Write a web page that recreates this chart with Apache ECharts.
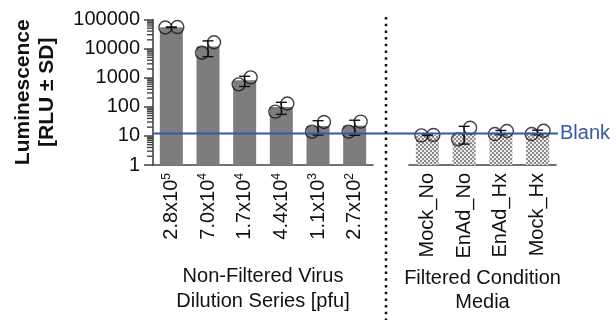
<!DOCTYPE html>
<html>
<head>
<meta charset="utf-8">
<script src="https://cdn.jsdelivr.net/npm/echarts@6/dist/echarts.min.js"></script>
<style>
  html, body { margin: 0; padding: 0; background: #fff; }
  #chart { width: 616px; height: 320px; }
</style>
</head>
<body>
<div id="chart"></div>
<script>
// Virus dilution series (pfu) and filtered conditioned media, luminescence replicates (RLU)
const dilutionLabels = ['2.8x10^5', '7.0x10^4', '1.7x10^4', '4.4x10^4', '1.1x10^3', '2.7x10^2'];
const dilutionRepA = [53000, 7200, 590, 68, 14, 14];
const dilutionRepB = [55000, 16500, 1030, 130, 30, 31];

const conditionLabels = ['Mock_No', 'EnAd_No', 'EnAd_Hx', 'Mock_Hx'];
const conditionRepA = [10.4, 7.6, 11.6, 11.6];
const conditionRepB = [10.8, 19, 14.7, 15];

const blankLevel = 12;
const yTickLabels = ['1', '10', '100', '1000', '10000', '100000'];
// log-axis minor ticks: 2..9 within each decade
const minorDecades = [1, 10, 100, 1000, 10000];
const minorMultipliers = [2, 3, 4, 5, 6, 7, 8, 9];

const FONT = '"Liberation Sans", Arial, Helvetica, sans-serif';
const INK = '#111';
const AXIS = '#444';
const BLUE = '#3558a8';

// panel geometry
const LEFT_GRID = { left: 153, top: 19.5, width: 220, height: 145.5 };
const RIGHT_GRID = { left: 409, top: 19.5, width: 147, height: 145.5 };

function mean(a, b) { return (a + b) / 2; }
function sd(a, b) {
  const m = mean(a, b);
  return Math.sqrt(((a - m) ** 2 + (b - m) ** 2) / 1);
}
function summary(repA, repB) {
  return repA.map((a, i) => {
    const b = repB[i];
    const m = mean(a, b), s = sd(a, b);
    return { mean: m, low: m - s, high: m + s };
  });
}
const dilutionStats = summary(dilutionRepA, dilutionRepB);
const conditionStats = summary(conditionRepA, conditionRepB);

const minorTickValues = [];
minorDecades.forEach(d => minorMultipliers.forEach(m => minorTickValues.push(d * m)));

// checkerboard fill for the conditioned-media bars
function checkerPattern() {
  const c = document.createElement('canvas');
  c.width = 4; c.height = 4;
  const g = c.getContext('2d');
  g.fillStyle = '#ebebeb';
  g.fillRect(0, 0, 4, 4);
  g.fillStyle = '#8c8c8c';
  g.fillRect(0, 0, 2, 2);
  g.fillRect(2, 2, 2, 2);
  return c;
}

function errorBarItem(params, api) {
  const x = api.value(0);
  const lo = api.coord([x, api.value(1)]);
  const hi = api.coord([x, api.value(2)]);
  const half = 5.5;
  const style = { stroke: INK, lineWidth: 1.4 };
  return {
    type: 'group',
    children: [
      { type: 'line', shape: { x1: lo[0], y1: lo[1], x2: hi[0], y2: hi[1] }, style },
      { type: 'line', shape: { x1: lo[0] - half, y1: lo[1], x2: lo[0] + half, y2: lo[1] }, style },
      { type: 'line', shape: { x1: hi[0] - half, y1: hi[1], x2: hi[0] + half, y2: hi[1] }, style }
    ]
  };
}

const logAxisBase = {
  type: 'log',
  logBase: 10,
  min: 1,
  max: 100000,
  splitLine: { show: false }
};

const catAxisBase = {
  type: 'category',
  axisTick: { show: false },
  axisLine: { lineStyle: { color: AXIS, width: 1.6 } },
  nameLocation: 'middle',
  nameTextStyle: { fontSize: 20, lineHeight: 25, color: INK, fontFamily: FONT }
};

const rotatedLabel = {
  rotate: 90,
  margin: 8,
  fontSize: 20,
  color: INK,
  fontFamily: FONT
};

const replicateStyle = {
  type: 'scatter',
  symbol: 'circle',
  symbolSize: 13,
  itemStyle: { color: 'rgba(0,0,0,0)', borderColor: INK, borderWidth: 1.4 },
  z: 5
};

const chart = echarts.init(document.getElementById('chart'), null, { renderer: 'canvas' });

chart.setOption({
  animation: false,
  backgroundColor: '#fff',
  grid: [LEFT_GRID, RIGHT_GRID],
  xAxis: [
    Object.assign({}, catAxisBase, {
      gridIndex: 0,
      data: dilutionLabels,
      name: 'Non-Filtered Virus\nDilution Series [pfu]',
      nameGap: 99,
      axisLabel: Object.assign({}, rotatedLabel, {
        formatter: (v) => {
          const [base, exp] = v.split('^');
          return '{b|' + base + '}{sup|' + exp + '}';
        },
        rich: {
          b: { fontSize: 20, lineHeight: 22, color: INK, fontFamily: FONT },
          sup: { fontSize: 12, lineHeight: 12, verticalAlign: 'top', color: INK, fontFamily: FONT }
        }
      })
    }),
    Object.assign({}, catAxisBase, {
      gridIndex: 1,
      data: conditionLabels,
      name: 'Filtered Condition\nMedia',
      nameGap: 101,
      nameTextStyle: { fontSize: 20, lineHeight: 24, color: INK, fontFamily: FONT },
      axisLabel: rotatedLabel
    })
  ],
  yAxis: [
    Object.assign({}, logAxisBase, {
      gridIndex: 0,
      z: 20,
      axisLine: { show: true, lineStyle: { color: AXIS, width: 1.6 } },
      axisTick: { show: true, length: 9, lineStyle: { color: AXIS, width: 1.5 } },
      axisLabel: {
        fontSize: 20,
        margin: 13,
        color: INK,
        fontFamily: FONT,
        formatter: (v) => {
          const k = Math.round(Math.log10(v));
          return yTickLabels[k] !== undefined ? yTickLabels[k] : '';
        }
      },
      name: 'Luminescence\n[RLU ± SD]',
      nameLocation: 'middle',
      nameRotate: 90,
      nameGap: 94,
      nameTextStyle: { fontSize: 21, fontWeight: 'bold', lineHeight: 24, color: INK, fontFamily: FONT }
    }),
    Object.assign({}, logAxisBase, { gridIndex: 1, show: false })
  ],
  series: [
    {
      type: 'bar',
      xAxisIndex: 0, yAxisIndex: 0,
      barWidth: 23,
      itemStyle: { color: '#7d7d7d' },
      data: dilutionStats.map(s => s.mean)
    },
    {
      type: 'bar',
      xAxisIndex: 1, yAxisIndex: 1,
      barWidth: 23,
      itemStyle: { color: { image: checkerPattern(), repeat: 'repeat' } },
      data: conditionStats.map(s => s.mean)
    },
    {
      type: 'custom',
      xAxisIndex: 0, yAxisIndex: 0,
      renderItem: errorBarItem,
      z: 4,
      data: dilutionStats.map((s, i) => [i, s.low, s.high])
    },
    {
      type: 'custom',
      xAxisIndex: 1, yAxisIndex: 1,
      renderItem: errorBarItem,
      z: 4,
      data: conditionStats.map((s, i) => [i, s.low, s.high])
    },
    Object.assign({}, replicateStyle, { xAxisIndex: 0, yAxisIndex: 0, symbolOffset: [-6, 0], data: dilutionRepA }),
    Object.assign({}, replicateStyle, { xAxisIndex: 0, yAxisIndex: 0, symbolOffset: [6, 0], data: dilutionRepB }),
    Object.assign({}, replicateStyle, { xAxisIndex: 1, yAxisIndex: 1, symbolOffset: [-6, 0], data: conditionRepA }),
    Object.assign({}, replicateStyle, { xAxisIndex: 1, yAxisIndex: 1, symbolOffset: [6, 0], data: conditionRepB })
  ]
});

// blank reference line, group separator and log minor ticks, placed through the axis scale
const blankY = chart.convertToPixel({ yAxisIndex: 0 }, blankLevel);
const axisX = LEFT_GRID.left;
const minorTicks = minorTickValues.map(v => {
  const y = chart.convertToPixel({ yAxisIndex: 0 }, v);
  return {
    type: 'line',
    z: 100,
    shape: { x1: axisX - 6, y1: y, x2: axisX, y2: y },
    style: { stroke: AXIS, lineWidth: 1.4 }
  };
});

chart.setOption({
  graphic: [
    {
      type: 'line',
      z: 100,
      shape: { x1: axisX, y1: blankY, x2: 558, y2: blankY },
      style: { stroke: BLUE, lineWidth: 2 }
    },
    {
      type: 'text',
      z: 100,
      x: 560,
      y: blankY,
      style: { text: 'Blank', fontSize: 20, fontFamily: FONT, fill: BLUE, verticalAlign: 'middle', align: 'left' }
    },
    {
      type: 'line',
      z: 100,
      shape: { x1: 386, y1: 17, x2: 386, y2: 320 },
      style: { stroke: INK, lineWidth: 2.5, lineDash: [2.5, 4.2] }
    }
  ].concat(minorTicks)
});
</script>
</body>
</html>
